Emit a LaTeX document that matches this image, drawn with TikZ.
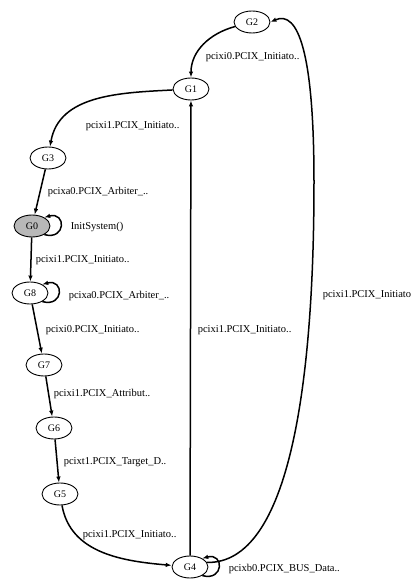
\documentclass[tikz,border=0pt]{standalone}
\usepackage{fontspec}
\setmainfont{Liberation Serif}
\usetikzlibrary{arrows.meta,shapes.geometric}

\begin{document}
\begin{tikzpicture}[x=1pt, y=1pt, line width=1.5pt,
    state/.style={draw, ellipse, line width=0.9pt, minimum width=36pt, minimum height=22pt, inner sep=0pt, font=\fontsize{10}{12}\selectfont},
    lbl/.style={anchor=west, inner sep=0pt, font=\fontsize{10.5}{12}\selectfont},
    trans/.style={-{Latex[length=6pt,width=4.5pt]}}]

    \useasboundingbox (0,0) rectangle (412,582);

    % states
    \node[state] (G2) at (252,560) {G2};
    \node[state] (G1) at (191,493) {G1};
    \node[state] (G3) at (48,424) {G3};
    \node[state, fill=black!28] (G0) at (32,356) {G0};
    \node[state] (G8) at (30,289) {G8};
    \node[state] (G7) at (44,217) {G7};
    \node[state] (G6) at (54,154) {G6};
    \node[state] (G5) at (60,88) {G5};
    \node[state] (G4) at (190,15) {G4};

    % transitions
    \draw[trans] (G2) to[out=195, in=90] (G1);
    \draw[trans] (G1) to[out=183, in=80] (G3);
    \draw[trans] (G3) -- (G0);
    \draw[trans] (G0) -- (G8);
    \draw[trans] (G8) -- (G7);
    \draw[trans] (G7) -- (G6);
    \draw[trans] (G6) -- (G5);
    \draw[trans] (G5) to[out=-80, in=175] (G4);
    \draw[trans] (G4) -- (G1);
    \draw[trans] (G4.15) .. controls (290,18) and (314,200) .. (314,400)
        .. controls (314,530) and (298,572) .. (G2.east);

    % self loops
    \draw[trans] (G0.-35) .. controls +(22,-6) and +(22,6) .. (G0.35);
    \draw[trans] (G8.-35) .. controls +(22,-6) and +(22,6) .. (G8.35);
    \draw[trans] (G4.-35) .. controls +(22,-6) and +(22,6) .. (G4.35);

    % labels
    \node[lbl] (l21) at (205,525) {pcixi0.PCIX\_Initiato..};
    \node[lbl] (l13) at (85,456) {pcixi1.PCIX\_Initiato..};
    \node[lbl] (l30) at (47,390) {pcixa0.PCIX\_Arbiter\_..};
    \node[lbl] (l00) at (70,355) {InitSystem()};
    \node[lbl] (l08) at (35,322) {pcixi1.PCIX\_Initiato..};
    \node[lbl] (l88) at (68,286) {pcixa0.PCIX\_Arbiter\_..};
    \node[lbl] (l87) at (45,252) {pcixi0.PCIX\_Initiato..};
    \node[lbl] (l76) at (53,188) {pcixi1.PCIX\_Attribut..};
    \node[lbl] (l65) at (63,120) {pcixt1.PCIX\_Target\_D..};
    \node[lbl] (l54) at (82,47) {pcixi1.PCIX\_Initiato..};
    \node[lbl] (l41) at (197,252) {pcixi1.PCIX\_Initiato..};
    \node[lbl] (l42) at (322,287) {pcixi1.PCIX\_Initiato};
    \node[lbl] (l44) at (228,13) {pcixb0.PCIX\_BUS\_Data..};
\end{tikzpicture}
\end{document}
